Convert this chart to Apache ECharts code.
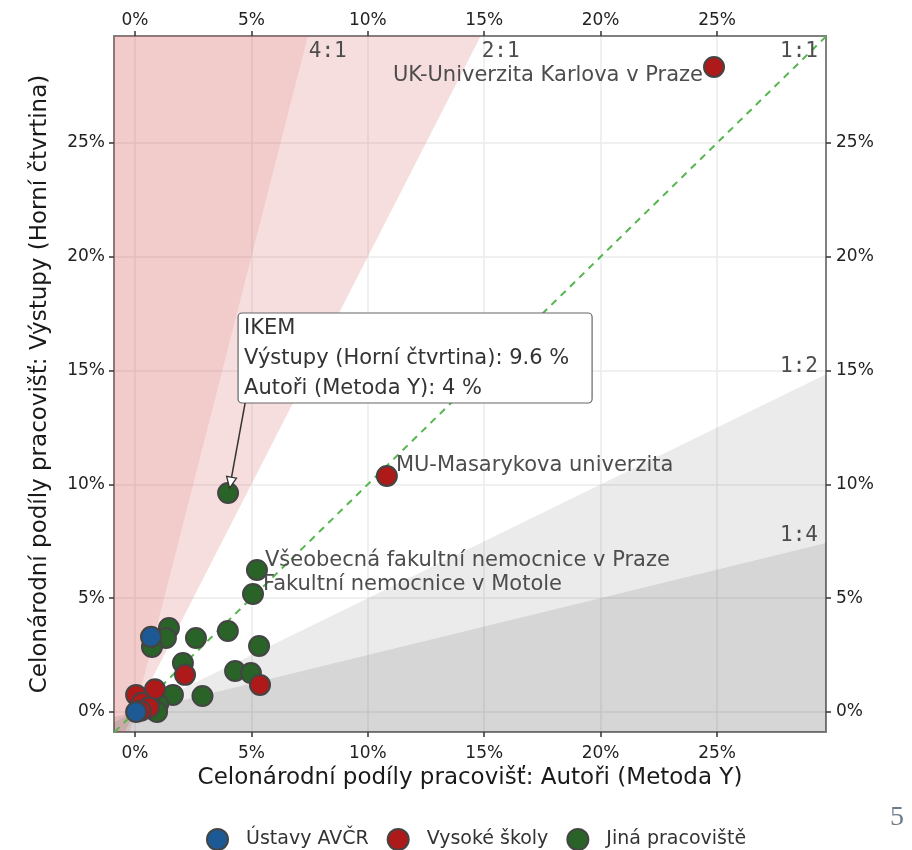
<!DOCTYPE html>
<html><head><meta charset="utf-8">
<script src="https://cdn.jsdelivr.net/npm/echarts@6/dist/echarts.min.js"></script>
<style>html,body{margin:0;padding:0;background:#fff}#c{width:912px;height:850px}</style>
</head><body><div id="c"></div>
<script>
// ---- data ----
const xRange = [-0.9, 29.68];
const yRange = [-0.88, 29.7];
const tickValues = [0, 5, 10, 15, 20, 25];
const shadeRatios = [2, 4, 0.5, 0.25];
const ratioValues = [4, 2, 1, 0.5, 0.25];
const ratioLabels = ['4:1', '2:1', '1:1', '1:2', '1:4'];
const groupNames = ['Ústavy AVČR', 'Vysoké školy', 'Jiná pracoviště'];
const groupColors = ['#1d5a95', '#ae1a1a', '#2a6328'];

const avcrPoints = [[0.69, 3.30], [0.05, 0.0]];
const avcrNames = ['', ''];
const vsPoints = [[24.87, 28.34], [10.82, 10.37], [2.15, 1.63], [5.37, 1.19], [0.86, 1.0], [0.05, 0.75], [0.3, 0.4], [0.6, 0.2], [0.25, 0.05]];
const vsNames = ['UK-Univerzita Karlova v Praze', 'MU-Masarykova univerzita', '', '', '', '', '', '', ''];
const otherPoints = [[4.0, 9.62], [5.24, 6.24], [5.07, 5.18], [1.46, 3.69], [1.33, 3.25], [0.73, 2.86], [2.62, 3.25],
  [3.99, 3.56], [5.33, 2.9], [2.06, 2.15], [4.3, 1.8], [4.98, 1.71], [2.9, 0.7], [1.63, 0.75], [1.0, 0.35], [0.8, 0.1],
  [0.4, 0.2], [0.55, 0.55], [0.95, 0.0]];
const otherNames = ['', 'Všeobecná fakultní nemocnice v Praze', 'Fakultní nemocnice v Motole', '', '', '', '', '', '', '', '', '', '', '', '', '', '', '', ''];

const calloutPoint = [4.0, 9.62];
const calloutLines = ['IKEM', 'Výstupy (Horní čtvrtina): 9.6 %', 'Autoři (Metoda Y): 4 %'];

const xTitle = 'Celonárodní podíly pracovišť: Autoři (Metoda Y)';
const yTitle = 'Celonárodní podíly pracovišť: Výstupy (Horní čtvrtina)';
const pageNumber = '5';

// ---- styling / layout ----
const FONT = 'DejaVu Sans';
const labelPlacement = {
  'UK-Univerzita Karlova v Praze': {position: [0, 20], align: 'right'},
  'MU-Masarykova univerzita': {position: [20, 1], align: 'left'},
  'Všeobecná fakultní nemocnice v Praze': {position: [19, 2], align: 'left'},
  'Fakultní nemocnice v Motole': {position: [21, 1], align: 'left'}
};
const shadeFill = {2: 'rgba(215,90,90,0.2)', 4: 'rgba(215,90,90,0.14)', 0.5: 'rgba(0,0,0,0.08)', 0.25: 'rgba(0,0,0,0.085)'};

function toData(points, names) {
  return points.map((p, i) => {
    const n = names[i];
    const d = {value: p, name: n};
    if (n && labelPlacement[n]) {
      d.label = {show: true, formatter: n, position: labelPlacement[n].position, align: labelPlacement[n].align,
        verticalAlign: 'middle', fontFamily: FONT, fontSize: 21, color: '#4d4d4d'};
    }
    return d;
  });
}

function regionPolygon(r) {
  const [x0, x1] = xRange, [y0, y1] = yRange;
  if (r > 1) return [[x0, y0], [y0 / r, y0], [y1 / r, y1], [x0, y1]];
  return [[x0, y0], [x0, r * x0], [x1, r * x1], [x1, y0]];
}

const pct = v => v + '%';
function xAxisDef(pos, grid) {
  return {
    type: 'value', position: pos, min: xRange[0], max: xRange[1],
    axisLine: {show: true, onZero: false, lineStyle: {color: '#808080', width: 2}},
    axisTick: {show: true, length: 5, customValues: tickValues, lineStyle: {color: '#333', width: 1.5}},
    axisLabel: {customValues: tickValues, formatter: pct, fontFamily: FONT, fontSize: 17, color: '#222', margin: pos === 'top' ? 7 : 13},
    splitLine: {show: grid, lineStyle: {color: '#ebebeb', width: 1.5}}
  };
}
function yAxisDef(pos, grid) {
  return {
    type: 'value', position: pos, min: yRange[0], max: yRange[1],
    axisLine: {show: true, onZero: false, lineStyle: {color: '#808080', width: 2}},
    axisTick: {show: true, length: 5, customValues: tickValues, lineStyle: {color: '#333', width: 1.5}},
    axisLabel: {customValues: tickValues, formatter: pct, fontFamily: FONT, fontSize: 17, color: '#222', margin: pos === 'left' ? 9 : 10},
    splitLine: {show: grid, lineStyle: {color: '#ebebeb', width: 1.5}}
  };
}

const chart = echarts.init(document.getElementById('c'), null, {renderer: 'canvas'});
const xa0 = xAxisDef('bottom', true);
xa0.name = xTitle; xa0.nameLocation = 'middle'; xa0.nameGap = 31;
xa0.nameTextStyle = {fontFamily: FONT, fontSize: 23, color: '#1a1a1a'};
const ya0 = yAxisDef('left', true);
ya0.name = yTitle; ya0.nameLocation = 'middle'; ya0.nameGap = 62;
ya0.nameTextStyle = {fontFamily: FONT, fontSize: 23, color: '#1a1a1a'};

const option = {
  backgroundColor: '#fff',
  animation: false,
  grid: {left: 114, right: 86, top: 36, bottom: 118, outerBoundsMode: 'none', containLabel: false},
  xAxis: [xa0, xAxisDef('top', false)],
  yAxis: [ya0, yAxisDef('right', false)],
  legend: {
    data: groupNames, top: 823, left: 201, icon: 'circle', itemWidth: 21, itemHeight: 21, itemGap: 18,
    itemStyle: {borderColor: '#444', borderWidth: 2},
    textStyle: {fontFamily: FONT, fontSize: 19, color: '#333', padding: [0, 0, 0, 13]}
  },
  graphic: [{
    type: 'text', right: 8, top: 804,
    style: {text: pageNumber, font: '28px "Liberation Serif", serif', fill: '#6b7b8c'}
  }],
  series: [
    {
      type: 'custom', name: 'regions', coordinateSystem: 'cartesian2d', silent: true, z: 1,
      data: shadeRatios.map(r => [r, 0]),
      renderItem: (params, api) => {
        const r = shadeRatios[params.dataIndex];
        const pts = regionPolygon(r).map(p => api.coord(p));
        return {type: 'polygon', shape: {points: pts}, style: {fill: shadeFill[r]}};
      }
    },
    {
      type: 'line', name: 'diag', silent: true, z: 2, symbol: 'none',
      data: [[Math.max(xRange[0], yRange[0]), Math.max(xRange[0], yRange[0])], [Math.min(xRange[1], yRange[1]), Math.min(xRange[1], yRange[1])]],
      lineStyle: {color: '#55b64f', width: 2, type: [7, 6]}
    },
    {
      type: 'custom', name: 'ratioText', coordinateSystem: 'cartesian2d', silent: true, z: 3,
      data: ratioValues.map(r => [r, 0]),
      renderItem: (params, api) => {
        const r = ratioValues[params.dataIndex];
        const txt = ratioLabels[params.dataIndex];
        let p, style;
        const base = {text: txt, fontFamily: 'DejaVu Sans Mono', fontSize: 21, fill: '#4d4d4d'};
        if (r > 1) {
          p = api.coord([yRange[1] / r, yRange[1]]);
          style = Object.assign({x: p[0] + 1, y: p[1] + 5, align: 'left', verticalAlign: 'top'}, base);
        } else if (r === 1) {
          p = api.coord([xRange[1], yRange[1]]);
          style = Object.assign({x: p[0] - 8, y: p[1] + 5, align: 'right', verticalAlign: 'top'}, base);
        } else {
          p = api.coord([xRange[1], r * xRange[1]]);
          style = Object.assign({x: p[0] - 8, y: p[1] + 3, align: 'right', verticalAlign: 'bottom'}, base);
        }
        return {type: 'text', style: style};
      }
    },
    {
      type: 'scatter', name: groupNames[2], z: 4, symbol: 'circle', symbolSize: 20,
      itemStyle: {color: groupColors[2], borderColor: '#444', borderWidth: 2, opacity: 1},
      data: toData(otherPoints, otherNames)
    },
    {
      type: 'scatter', name: groupNames[1], z: 5, symbol: 'circle', symbolSize: 20,
      itemStyle: {color: groupColors[1], borderColor: '#444', borderWidth: 2, opacity: 1},
      data: toData(vsPoints, vsNames)
    },
    {
      type: 'scatter', name: groupNames[0], z: 6, symbol: 'circle', symbolSize: 20,
      itemStyle: {color: groupColors[0], borderColor: '#444', borderWidth: 2, opacity: 1},
      data: toData(avcrPoints, avcrNames)
    },
    {
      type: 'custom', name: 'callout', coordinateSystem: 'cartesian2d', silent: true, z: 10,
      data: [calloutPoint],
      renderItem: (params, api) => {
        const p = api.coord([api.value(0), api.value(1)]);
        const bx = p[0] + 10, by = p[1] - 180, bw = 354, bh = 90;
        const sx = bx + 7, sy = by + bh, ex = p[0] + 1.5, ey = p[1] - 5;
        const dx = ex - sx, dy = ey - sy, L = Math.sqrt(dx * dx + dy * dy);
        const ux = dx / L, uy = dy / L, al = 11, aw = 5;
        const bxp = ex - ux * al, byp = ey - uy * al;
        const children = [
          {type: 'rect', shape: {x: bx, y: by, width: bw, height: bh, r: 4}, style: {fill: '#fff', stroke: '#666', lineWidth: 1.2}},
          {type: 'line', shape: {x1: sx, y1: sy, x2: bxp, y2: byp}, style: {stroke: '#333', lineWidth: 1.5}},
          {type: 'polygon', shape: {points: [[ex, ey], [bxp - uy * aw, byp + ux * aw], [bxp + uy * aw, byp - ux * aw]]}, style: {fill: '#fff', stroke: '#333', lineWidth: 1.3}}
        ];
        calloutLines.forEach((t, i) => {
          children.push({type: 'text', style: {x: bx + 6, y: by + 16 + i * 30, text: t, fontFamily: FONT, fontSize: 21, fill: '#333', align: 'left', verticalAlign: 'middle'}});
        });
        return {type: 'group', children: children};
      }
    }
  ]
};
chart.setOption(option);
</script>
</body></html>
